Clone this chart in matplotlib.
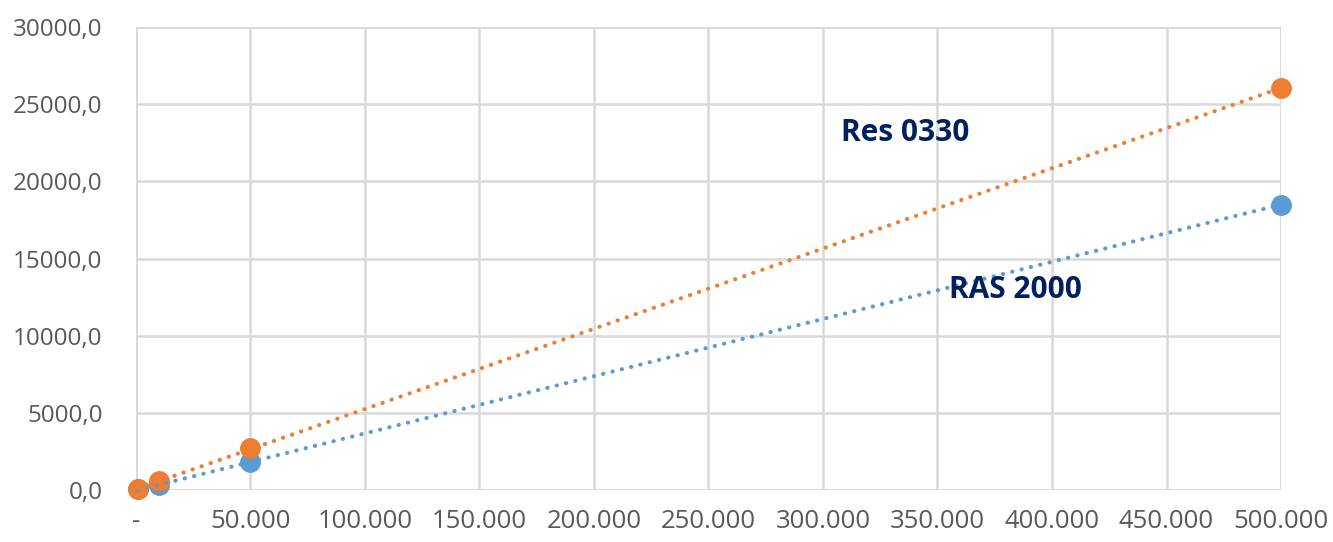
import matplotlib

matplotlib.use("Agg")
import matplotlib.pyplot as plt
import numpy as np
from matplotlib.ticker import FuncFormatter

# Measured points per series (x = load, y = result).
x_vals = [1000, 10000, 50000, 500000]
ras_2000 = [40, 300, 1800, 18500]
res_0330 = [60, 550, 2700, 26050]

series_names = ["RAS 2000", "Res 0330"]
series_colors = ["#5B9BD5", "#ED7D31"]
label_pos = [(355000, 12950), (308000, 23150)]

x_ticks = list(range(0, 500001, 50000))
y_ticks = list(range(0, 30001, 5000))

plt.rcParams["font.family"] = ["Open Sans", "DejaVu Sans"]

fig = plt.figure(figsize=(13.33, 5.42), dpi=100)
ax = fig.add_axes([0.102, 0.096, 0.859, 0.854])

xs = np.array(x_vals, dtype=float)
for ys, c in zip([ras_2000, res_0330], series_colors):
    ax.plot(xs, ys, "o", color=c, ms=14, zorder=4, mec=c, clip_on=False)

# Linear trendlines over the data range
for ys, c in zip([ras_2000, res_0330], series_colors):
    k, b = np.polyfit(xs, np.array(ys, dtype=float), 1)
    tx = np.array([xs.min(), xs.max()])
    ax.plot(tx, k * tx + b, color=c, lw=3.0, linestyle=(0, (0.05, 2.25)),
            dash_capstyle="round", zorder=5, clip_on=False)

for name, (lx, ly) in zip(series_names, label_pos):
    ax.text(lx, ly, name, color="#002060", fontsize=21.5, fontweight="bold",
            ha="left", va="center", zorder=6)

ax.set_xlim(0, 500000)
ax.set_ylim(0, 30000)
ax.set_xticks(x_ticks)
ax.set_yticks(y_ticks)
ax.xaxis.set_major_formatter(FuncFormatter(
    lambda v, p: "-" if v == 0 else f"{int(v):,}".replace(",", ".")))
ax.yaxis.set_major_formatter(FuncFormatter(lambda v, p: f"{v:.1f}".replace(".", ",")))
ax.tick_params(length=0, labelsize=17.5, labelcolor="#595959")
ax.tick_params(axis="x", labelsize=18.5, pad=14)
ax.tick_params(axis="y", pad=24)
for lab in ax.get_yticklabels():
    lab.set_horizontalalignment("right")

ax.grid(True, color="#D9D9D9", lw=1.8)
ax.set_axisbelow(True)
for s in ax.spines.values():
    s.set_visible(False)
for x in (0, 500000):
    ax.axvline(x, color="#D9D9D9", lw=1.8, zorder=0)
for y in (0, 30000):
    ax.axhline(y, color="#D9D9D9", lw=1.8, zorder=0)

fig.savefig("out.png", dpi=100)
